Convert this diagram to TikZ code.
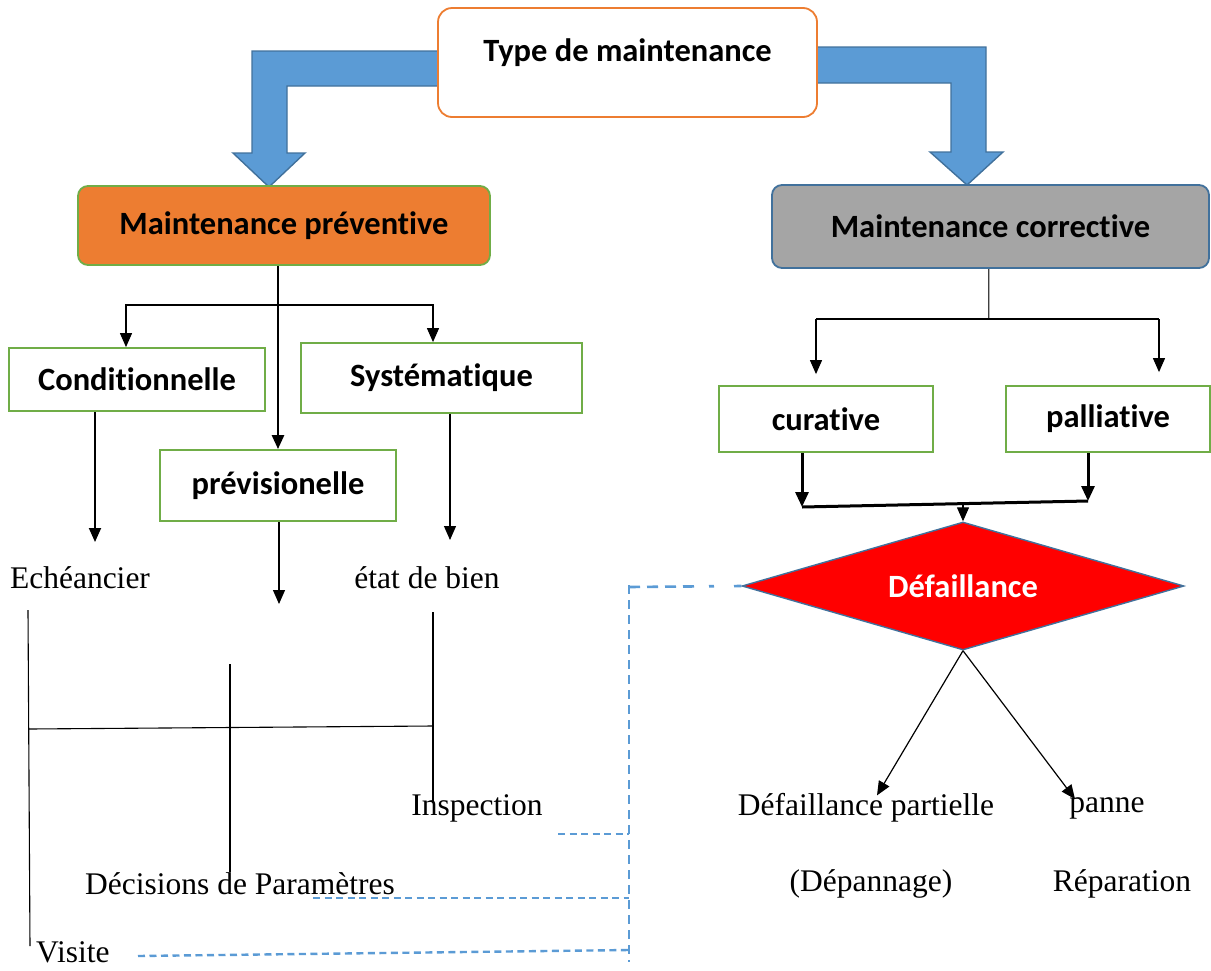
\documentclass[tikz,border=0pt]{standalone}
\usepackage{fontspec}
\setmainfont{Liberation Serif}
\newfontfamily\calfont[Ligatures=NoCommon]{Carlito}
\usetikzlibrary{arrows.meta,shapes.geometric}
\definecolor{orangeA}{HTML}{ED7D31}
\definecolor{blueA}{HTML}{5B9BD5}
\definecolor{blueB}{HTML}{41719C}
\definecolor{greenA}{HTML}{70AD47}
\definecolor{grayA}{HTML}{A5A5A5}
\tikzset{
  boldtxt/.style={font=\calfont\bfseries\fontsize{32.5}{38}\selectfont},
  serif/.style={font=\fontsize{31.5}{36}\selectfont, inner sep=2pt},
  greenbox/.style={draw=greenA, line width=1.8pt, boldtxt, inner sep=0pt},
  bigarrow/.style={fill=blueA, draw=blueB, line width=1.4pt, line join=miter},
  tip/.style={-{Triangle[width=12pt,length=14pt]}},
  thinarr/.style={line width=1.2pt, tip},
  thickarr/.style={line width=3pt, -{Triangle[width=13pt,length=15pt]}},
  bluedash/.style={draw=blueA, line width=2.4pt, dash pattern=on 7pt off 4.5pt},
  bluedashv/.style={draw=blueA, line width=2.6pt, dash pattern=on 9pt off 6pt},
}
\begin{document}
\begin{tikzpicture}[x=1pt,y=-1pt]
\useasboundingbox (0,0) rectangle (1211,970);
% big blue arrows
\draw[bigarrow] (438,51) -- (252,51) -- (252,153) -- (233,153) -- (269,187) -- (305,153) -- (287,153) -- (287,86) -- (438,86);
\draw[bigarrow] (817,47) -- (986,47) -- (986,152) -- (1003,152) -- (967,185) -- (930,152) -- (951,152) -- (951,83) -- (817,83);
% top box
\node[draw=orangeA, fill=white, line width=1.8pt, rounded corners=14pt, minimum width=379pt, minimum height=109pt,
      label={[boldtxt, yshift=10pt]center:Type de maintenance}] (top) at (627.5,62.5) {};
% main boxes
\node[boldtxt, fill=orangeA, draw=greenA, line width=1.8pt, rounded corners=10pt, minimum width=412pt, minimum height=79pt] (prevent) at (284,225.5) {Maintenance préventive};
\node[boldtxt, fill=grayA, draw=blueB, line width=1.8pt, rounded corners=10pt, minimum width=437pt, minimum height=83pt] (corr) at (990.5,226.5) {Maintenance corrective};
% preventive sub boxes
\node[greenbox, minimum width=256pt, minimum height=63pt] (cond) at (137,379.5) {Conditionnelle};
\node[greenbox, minimum width=281pt, minimum height=70pt] (sys) at (441.5,378) {Systématique};
\node[greenbox, minimum width=236pt, minimum height=71pt] (prev) at (278,485.5) {prévisionelle};
% preventive connectors
\coordinate (pj) at (278,305);
\draw[line width=2.6pt, tip] (prev.north |- prevent.south) -- (prev.north);
\draw[thinarr] (pj) -| ([xshift=-11pt]cond.north);
\draw[thinarr] (pj) -| ([xshift=-8.5pt]sys.north);
% texts
\node[serif] (ech) at (80,578) {Echéancier};
\node[serif] (etat) at (427,578) {état de bien};
\node[serif] (insp) at (477,808) {Inspection};
\node[serif] (deci) at (240,884) {Décisions de Paramètres};
\node[serif, inner sep=0pt, anchor=base west] (visi) at (36,962) {Visite};
\coordinate (e1) at (95,542);
\coordinate (e2) at (450,540);
\coordinate (e3) at (279,604);
\draw[line width=1.8pt, tip] ([xshift=-42pt]cond.south) -- (e1);
\draw[line width=1.2pt, tip] (e2 |- sys.south) -- (e2);
\draw[line width=1.2pt, tip] (e3 |- prev.south) -- (e3);
% lower left lines
\draw[line width=1.1pt] (28,610) -- (30,946);
\draw[line width=1.1pt] (230,664) -- (230,872);
\draw[line width=1.1pt] (433,612) -- (433,803);
\draw[line width=1.1pt] (29,729) -- (433,726);
% corrective side
\node[greenbox, minimum width=214pt, minimum height=66pt] (cur) at (826,419) {curative};
\node[greenbox, minimum width=204pt, minimum height=66pt] (pal) at (1108,419) {palliative};
\coordinate (cj) at (989,319);
\draw[draw=black!75, double=black!30, double distance=0.8pt, line width=0.8pt] (cj |- corr.south) -- (cj);
\draw[line width=1.2pt] ([xshift=-10pt]cur.north |- cj) -- (cj) -- ([xshift=51pt]pal.north |- cj);
\draw[thinarr] ([xshift=-10pt]cur.north |- cj) -- ([xshift=-10pt,yshift=11pt]cur.north);
\draw[thinarr] ([xshift=51pt]pal.north |- cj) -- ([xshift=51pt,yshift=13pt]pal.north);
\node[shape=diamond, fill=red, draw=blueB, line width=1.4pt, minimum width=442pt, minimum height=128pt, aspect=3.45, inner sep=0pt,
      boldtxt, text=white] (def) at (963,586) {Défaillance};
\coordinate (m1) at (802,507);
\coordinate (m2) at (1088,501);
\draw[thickarr] ([xshift=-24pt]cur.south) -- (m1);
\draw[thickarr] ([xshift=-20pt]pal.south) -- (m2);
\draw[line width=3pt] (m1) -- (m2);
\draw[thinarr] (963,503) -- (def.north);
\node[serif] (parti) at (866,808) {Défaillance partielle};
\node[serif] (panne) at (1107,808) {panne};
\node[serif] (depan) at (871,884) {(Dépannage)};
\node[serif] (repar) at (1122,884) {Réparation};
\draw[thinarr] (def.south) -- ([xshift=11pt,yshift=-4pt]parti.north);
\draw[thinarr] (def.south) -- ([xshift=-32pt,yshift=-4pt]panne.north);
% blue dashed lines
\draw[bluedashv] (629,585) -- (629,962);
\draw[draw=blueA, line width=2.6pt, dash pattern=on 11pt off 7pt on 11pt off 7pt on 11pt off 7pt on 11pt off 15pt on 5pt off 20pt] (629,587) -- (def.west);
\draw[bluedash] (558,834) -- (629,834);
\draw[bluedash] (313,898) -- (629,898);
\draw[bluedash] (138,956) -- (629,950);
\end{tikzpicture}
\end{document}
